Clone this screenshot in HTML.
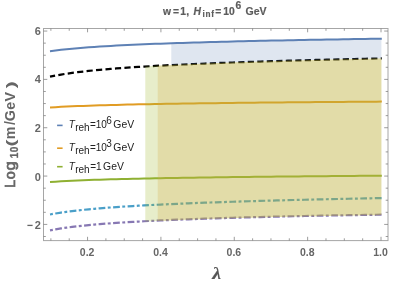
<!DOCTYPE html>
<html><head><meta charset="utf-8"><style>
html,body{margin:0;padding:0;background:#fff;}
svg{display:block;font-family:"Liberation Sans",sans-serif;}
#w{will-change:transform;width:399px;height:285px;overflow:hidden;}
</style></head><body>
<div id="w">
<svg width="399" height="285" viewBox="0 0 399 285">
<rect width="399" height="285" fill="#fff"/>
<g fill="none" stroke-width="2">
<path d="M50.00 51.23 L55.53 50.46 L61.06 49.78 L66.59 49.18 L72.12 48.64 L77.65 48.15 L83.18 47.70 L88.71 47.28 L94.24 46.90 L99.77 46.54 L105.30 46.20 L110.83 45.88 L116.36 45.58 L121.89 45.30 L127.42 45.03 L132.95 44.77 L138.48 44.53 L144.01 44.29 L149.54 44.07 L155.07 43.85 L160.60 43.65 L166.13 43.45 L171.66 43.25 L177.19 43.07 L182.72 42.89 L188.25 42.71 L193.78 42.55 L199.31 42.38 L204.84 42.22 L210.37 42.07 L215.90 41.92 L221.43 41.77 L226.96 41.63 L232.49 41.49 L238.02 41.36 L243.55 41.23 L249.08 41.10 L254.61 40.98 L260.14 40.85 L265.67 40.73 L271.20 40.62 L276.73 40.50 L282.26 40.39 L287.79 40.28 L293.32 40.17 L298.85 40.07 L304.38 39.96 L309.91 39.86 L315.44 39.76 L320.97 39.66 L326.50 39.57 L332.03 39.47 L337.56 39.38 L343.09 39.29 L348.62 39.20 L354.15 39.11 L359.68 39.02 L365.21 38.94 L370.74 38.85 L376.27 38.77 L381.80 38.69 " stroke="#5E81B5"/>
<path d="M50.00 107.56 L55.53 107.19 L61.06 106.87 L66.59 106.59 L72.12 106.33 L77.65 106.10 L83.18 105.88 L88.71 105.68 L94.24 105.50 L99.77 105.33 L105.30 105.17 L110.83 105.02 L116.36 104.88 L121.89 104.74 L127.42 104.61 L132.95 104.49 L138.48 104.37 L144.01 104.26 L149.54 104.15 L155.07 104.05 L160.60 103.95 L166.13 103.86 L171.66 103.77 L177.19 103.68 L182.72 103.59 L188.25 103.51 L193.78 103.43 L199.31 103.35 L204.84 103.28 L210.37 103.20 L215.90 103.13 L221.43 103.06 L226.96 103.00 L232.49 102.93 L238.02 102.87 L243.55 102.80 L249.08 102.74 L254.61 102.68 L260.14 102.62 L265.67 102.57 L271.20 102.51 L276.73 102.46 L282.26 102.40 L287.79 102.35 L293.32 102.30 L298.85 102.25 L304.38 102.20 L309.91 102.15 L315.44 102.10 L320.97 102.06 L326.50 102.01 L332.03 101.97 L337.56 101.92 L343.09 101.88 L348.62 101.84 L354.15 101.79 L359.68 101.75 L365.21 101.71 L370.74 101.67 L376.27 101.63 L381.80 101.59 " stroke="#E19C24"/>
<path d="M50.00 182.07 L55.53 181.67 L61.06 181.33 L66.59 181.02 L72.12 180.75 L77.65 180.50 L83.18 180.27 L88.71 180.06 L94.24 179.87 L99.77 179.68 L105.30 179.51 L110.83 179.35 L116.36 179.20 L121.89 179.05 L127.42 178.92 L132.95 178.79 L138.48 178.66 L144.01 178.54 L149.54 178.43 L155.07 178.32 L160.60 178.21 L166.13 178.11 L171.66 178.01 L177.19 177.92 L182.72 177.83 L188.25 177.74 L193.78 177.65 L199.31 177.57 L204.84 177.49 L210.37 177.41 L215.90 177.34 L221.43 177.26 L226.96 177.19 L232.49 177.12 L238.02 177.05 L243.55 176.98 L249.08 176.92 L254.61 176.86 L260.14 176.79 L265.67 176.73 L271.20 176.67 L276.73 176.62 L282.26 176.56 L287.79 176.50 L293.32 176.45 L298.85 176.39 L304.38 176.34 L309.91 176.29 L315.44 176.24 L320.97 176.19 L326.50 176.14 L332.03 176.09 L337.56 176.04 L343.09 176.00 L348.62 175.95 L354.15 175.91 L359.68 175.86 L365.21 175.82 L370.74 175.78 L376.27 175.74 L381.80 175.69 " stroke="#8FB032"/>
<path d="M50.00 214.47 L55.53 213.46 L61.06 212.58 L66.59 211.79 L72.12 211.09 L77.65 210.44 L83.18 209.86 L88.71 209.31 L94.24 208.81 L99.77 208.34 L105.30 207.90 L110.83 207.48 L116.36 207.09 L121.89 206.72 L127.42 206.37 L132.95 206.03 L138.48 205.71 L144.01 205.41 L149.54 205.11 L155.07 204.83 L160.60 204.56 L166.13 204.30 L171.66 204.05 L177.19 203.81 L182.72 203.57 L188.25 203.34 L193.78 203.12 L199.31 202.91 L204.84 202.70 L210.37 202.50 L215.90 202.31 L221.43 202.12 L226.96 201.93 L232.49 201.75 L238.02 201.58 L243.55 201.40 L249.08 201.24 L254.61 201.07 L260.14 200.91 L265.67 200.76 L271.20 200.60 L276.73 200.45 L282.26 200.31 L287.79 200.16 L293.32 200.02 L298.85 199.88 L304.38 199.75 L309.91 199.62 L315.44 199.49 L320.97 199.36 L326.50 199.23 L332.03 199.11 L337.56 198.99 L343.09 198.87 L348.62 198.75 L354.15 198.63 L359.68 198.52 L365.21 198.41 L370.74 198.30 L376.27 198.19 L381.80 198.08 " stroke="#4A9FC8" stroke-dasharray="2.9 2.45 6.75 2.45" stroke-width="2.2"/>
<path d="M50.00 230.38 L55.53 229.33 L61.06 228.43 L66.59 227.63 L72.12 226.91 L77.65 226.26 L83.18 225.66 L88.71 225.12 L94.24 224.61 L99.77 224.14 L105.30 223.71 L110.83 223.30 L116.36 222.91 L121.89 222.54 L127.42 222.20 L132.95 221.87 L138.48 221.56 L144.01 221.26 L149.54 220.98 L155.07 220.71 L160.60 220.44 L166.13 220.19 L171.66 219.95 L177.19 219.72 L182.72 219.50 L188.25 219.29 L193.78 219.08 L199.31 218.88 L204.84 218.68 L210.37 218.50 L215.90 218.31 L221.43 218.14 L226.96 217.97 L232.49 217.80 L238.02 217.64 L243.55 217.48 L249.08 217.33 L254.61 217.18 L260.14 217.04 L265.67 216.90 L271.20 216.76 L276.73 216.63 L282.26 216.50 L287.79 216.37 L293.32 216.25 L298.85 216.13 L304.38 216.01 L309.91 215.90 L315.44 215.79 L320.97 215.68 L326.50 215.58 L332.03 215.47 L337.56 215.37 L343.09 215.28 L348.62 215.18 L354.15 215.09 L359.68 215.00 L365.21 214.92 L370.74 214.83 L376.27 214.76 L381.80 214.69 " stroke="#8778B3" stroke-dasharray="2.9 2.45 6.75 2.45" stroke-width="2.2"/>
<path d="M50.00 76.69 L55.53 75.56 L61.06 74.57 L66.59 73.70 L72.12 72.91 L77.65 72.19 L83.18 71.54 L88.71 70.93 L94.24 70.37 L99.77 69.84 L105.30 69.35 L110.83 68.89 L116.36 68.45 L121.89 68.03 L127.42 67.64 L132.95 67.27 L138.48 66.91 L144.01 66.57 L149.54 66.24 L155.07 65.92 L160.60 65.62 L166.13 65.33 L171.66 65.05 L177.19 64.78 L182.72 64.51 L188.25 64.26 L193.78 64.01 L199.31 63.78 L204.84 63.54 L210.37 63.32 L215.90 63.10 L221.43 62.89 L226.96 62.68 L232.49 62.48 L238.02 62.28 L243.55 62.09 L249.08 61.90 L254.61 61.72 L260.14 61.54 L265.67 61.37 L271.20 61.20 L276.73 61.03 L282.26 60.87 L287.79 60.70 L293.32 60.55 L298.85 60.39 L304.38 60.24 L309.91 60.09 L315.44 59.95 L320.97 59.80 L326.50 59.66 L332.03 59.53 L337.56 59.39 L343.09 59.26 L348.62 59.13 L354.15 59.00 L359.68 58.87 L365.21 58.75 L370.74 58.62 L376.27 58.50 L381.80 58.38 " stroke="#000" stroke-dasharray="6.2 3.3" stroke-dashoffset="1.0" stroke-width="2.2"/>
</g>
<path d="M171.30 43.27 L174.80 43.15 L178.30 43.03 L181.81 42.92 L185.31 42.81 L188.81 42.70 L192.31 42.59 L195.81 42.49 L199.31 42.38 L202.81 42.28 L206.32 42.18 L209.82 42.09 L213.32 41.99 L216.82 41.90 L220.32 41.80 L223.82 41.71 L227.33 41.62 L230.83 41.54 L234.33 41.45 L237.83 41.36 L241.33 41.28 L244.84 41.20 L248.34 41.12 L251.84 41.04 L255.34 40.96 L258.84 40.88 L262.34 40.80 L265.84 40.73 L269.35 40.65 L272.85 40.58 L276.35 40.51 L279.85 40.44 L283.35 40.37 L286.86 40.30 L290.36 40.23 L293.86 40.16 L297.36 40.09 L300.86 40.03 L304.36 39.96 L307.87 39.90 L311.37 39.83 L314.87 39.77 L318.37 39.71 L321.87 39.65 L325.37 39.59 L328.87 39.53 L332.38 39.47 L335.88 39.41 L339.38 39.35 L342.88 39.29 L346.38 39.23 L349.88 39.18 L353.39 39.12 L356.89 39.07 L360.39 39.01 L363.89 38.96 L367.39 38.90 L370.89 38.85 L374.40 38.80 L377.90 38.75 L381.40 38.69 L381.40 58.39 L377.90 58.47 L374.40 58.54 L370.89 58.62 L367.39 58.70 L363.89 58.78 L360.39 58.85 L356.89 58.93 L353.39 59.02 L349.88 59.10 L346.38 59.18 L342.88 59.26 L339.38 59.35 L335.88 59.43 L332.38 59.52 L328.87 59.60 L325.37 59.69 L321.87 59.78 L318.37 59.87 L314.87 59.96 L311.37 60.05 L307.87 60.15 L304.36 60.24 L300.86 60.34 L297.36 60.43 L293.86 60.53 L290.36 60.63 L286.86 60.73 L283.35 60.83 L279.85 60.94 L276.35 61.04 L272.85 61.15 L269.35 61.25 L265.84 61.36 L262.34 61.47 L258.84 61.58 L255.34 61.70 L251.84 61.81 L248.34 61.93 L244.84 62.05 L241.33 62.17 L237.83 62.29 L234.33 62.41 L230.83 62.54 L227.33 62.67 L223.82 62.80 L220.32 62.93 L216.82 63.07 L213.32 63.20 L209.82 63.34 L206.32 63.48 L202.81 63.63 L199.31 63.78 L195.81 63.93 L192.31 64.08 L188.81 64.23 L185.31 64.39 L181.81 64.56 L178.30 64.72 L174.80 64.89 L171.30 65.07 Z" fill="#5E81B5" fill-opacity="0.2"/>
<path d="M145.30 66.49 L149.24 66.26 L153.17 66.03 L157.11 65.81 L161.04 65.60 L164.97 65.39 L168.91 65.19 L172.85 64.99 L176.78 64.80 L180.72 64.61 L184.65 64.42 L188.58 64.24 L192.52 64.07 L196.46 63.90 L200.39 63.73 L204.32 63.57 L208.26 63.40 L212.20 63.25 L216.13 63.09 L220.06 62.94 L224.00 62.79 L227.94 62.65 L231.87 62.50 L235.81 62.36 L239.74 62.22 L243.68 62.09 L247.61 61.95 L251.55 61.82 L255.48 61.69 L259.41 61.57 L263.35 61.44 L267.28 61.32 L271.22 61.20 L275.16 61.08 L279.09 60.96 L283.02 60.84 L286.96 60.73 L290.89 60.62 L294.83 60.50 L298.76 60.40 L302.70 60.29 L306.64 60.18 L310.57 60.08 L314.50 59.97 L318.44 59.87 L322.38 59.77 L326.31 59.67 L330.25 59.57 L334.18 59.47 L338.12 59.38 L342.05 59.28 L345.99 59.19 L349.92 59.10 L353.86 59.00 L357.79 58.91 L361.72 58.82 L365.66 58.74 L369.59 58.65 L373.53 58.56 L377.47 58.48 L381.40 58.39 L381.40 215.09 L377.47 215.14 L373.53 215.19 L369.59 215.25 L365.66 215.31 L361.72 215.37 L357.79 215.43 L353.86 215.49 L349.92 215.56 L345.99 215.63 L342.05 215.69 L338.12 215.76 L334.18 215.83 L330.25 215.91 L326.31 215.98 L322.38 216.05 L318.44 216.13 L314.50 216.21 L310.57 216.29 L306.64 216.37 L302.70 216.45 L298.76 216.53 L294.83 216.62 L290.89 216.70 L286.96 216.79 L283.02 216.88 L279.09 216.97 L275.16 217.07 L271.22 217.16 L267.28 217.26 L263.35 217.36 L259.41 217.46 L255.48 217.56 L251.55 217.66 L247.61 217.77 L243.68 217.88 L239.74 217.99 L235.81 218.10 L231.87 218.22 L227.94 218.34 L224.00 218.46 L220.06 218.58 L216.13 218.71 L212.20 218.84 L208.26 218.97 L204.32 219.10 L200.39 219.24 L196.46 219.38 L192.52 219.52 L188.58 219.67 L184.65 219.82 L180.72 219.98 L176.78 220.14 L172.85 220.30 L168.91 220.47 L164.97 220.65 L161.04 220.82 L157.11 221.01 L153.17 221.20 L149.24 221.39 L145.30 221.59 Z" fill="#9FB72B" fill-opacity="0.25"/>
<path d="M157.70 65.78 L161.43 65.58 L165.16 65.38 L168.88 65.19 L172.61 65.00 L176.34 64.82 L180.07 64.64 L183.80 64.46 L187.53 64.29 L191.25 64.13 L194.98 63.96 L198.71 63.80 L202.44 63.64 L206.17 63.49 L209.90 63.34 L213.62 63.19 L217.35 63.04 L221.08 62.90 L224.81 62.76 L228.54 62.62 L232.27 62.49 L236.00 62.35 L239.72 62.22 L243.45 62.09 L247.18 61.97 L250.91 61.84 L254.64 61.72 L258.36 61.60 L262.09 61.48 L265.82 61.36 L269.55 61.25 L273.28 61.13 L277.01 61.02 L280.74 60.91 L284.46 60.80 L288.19 60.69 L291.92 60.59 L295.65 60.48 L299.38 60.38 L303.10 60.28 L306.83 60.18 L310.56 60.08 L314.29 59.98 L318.02 59.88 L321.75 59.78 L325.48 59.69 L329.20 59.60 L332.93 59.50 L336.66 59.41 L340.39 59.32 L344.12 59.23 L347.84 59.14 L351.57 59.06 L355.30 58.97 L359.03 58.89 L362.76 58.80 L366.49 58.72 L370.22 58.63 L373.94 58.55 L377.67 58.47 L381.40 58.39 L381.40 215.09 L377.67 215.14 L373.94 215.19 L370.22 215.24 L366.49 215.30 L362.76 215.35 L359.03 215.41 L355.30 215.47 L351.57 215.53 L347.84 215.59 L344.12 215.66 L340.39 215.72 L336.66 215.79 L332.93 215.86 L329.20 215.92 L325.48 215.99 L321.75 216.07 L318.02 216.14 L314.29 216.21 L310.56 216.29 L306.83 216.36 L303.10 216.44 L299.38 216.52 L295.65 216.60 L291.92 216.68 L288.19 216.76 L284.46 216.85 L280.74 216.94 L277.01 217.02 L273.28 217.11 L269.55 217.20 L265.82 217.30 L262.09 217.39 L258.36 217.48 L254.64 217.58 L250.91 217.68 L247.18 217.78 L243.45 217.89 L239.72 217.99 L236.00 218.10 L232.27 218.21 L228.54 218.32 L224.81 218.43 L221.08 218.55 L217.35 218.67 L213.62 218.79 L209.90 218.91 L206.17 219.04 L202.44 219.17 L198.71 219.30 L194.98 219.43 L191.25 219.57 L187.53 219.71 L183.80 219.86 L180.07 220.01 L176.34 220.16 L172.61 220.31 L168.88 220.47 L165.16 220.64 L161.43 220.81 L157.70 220.98 Z" fill="#D3AD42" fill-opacity="0.25"/>
<rect x="43.5" y="28.5" width="344.5" height="212.10" fill="none" stroke="#a6a6a6" stroke-width="1"/>
<g stroke="#7c7c7c" stroke-width="0.75" fill="none"><path d="M50.88 240.60 v-2.3 M50.88 28.50 v2.3"/><path d="M69.22 240.60 v-2.3 M69.22 28.50 v2.3"/><path d="M87.56 240.60 v-3.8 M87.56 28.50 v3.8"/><path d="M105.90 240.60 v-2.3 M105.90 28.50 v2.3"/><path d="M124.24 240.60 v-2.3 M124.24 28.50 v2.3"/><path d="M142.58 240.60 v-2.3 M142.58 28.50 v2.3"/><path d="M160.92 240.60 v-3.8 M160.92 28.50 v3.8"/><path d="M179.26 240.60 v-2.3 M179.26 28.50 v2.3"/><path d="M197.60 240.60 v-2.3 M197.60 28.50 v2.3"/><path d="M215.94 240.60 v-2.3 M215.94 28.50 v2.3"/><path d="M234.28 240.60 v-3.8 M234.28 28.50 v3.8"/><path d="M252.62 240.60 v-2.3 M252.62 28.50 v2.3"/><path d="M270.96 240.60 v-2.3 M270.96 28.50 v2.3"/><path d="M289.30 240.60 v-2.3 M289.30 28.50 v2.3"/><path d="M307.64 240.60 v-3.8 M307.64 28.50 v3.8"/><path d="M325.98 240.60 v-2.3 M325.98 28.50 v2.3"/><path d="M344.32 240.60 v-2.3 M344.32 28.50 v2.3"/><path d="M362.66 240.60 v-2.3 M362.66 28.50 v2.3"/><path d="M381.00 240.60 v-3.8 M381.00 28.50 v3.8"/><path d="M43.50 236.50 h2.3 M388.00 236.50 h-2.3"/><path d="M43.50 224.41 h3.8 M388.00 224.41 h-3.8"/><path d="M43.50 212.32 h2.3 M388.00 212.32 h-2.3"/><path d="M43.50 200.24 h2.3 M388.00 200.24 h-2.3"/><path d="M43.50 188.16 h2.3 M388.00 188.16 h-2.3"/><path d="M43.50 176.07 h3.8 M388.00 176.07 h-3.8"/><path d="M43.50 163.98 h2.3 M388.00 163.98 h-2.3"/><path d="M43.50 151.90 h2.3 M388.00 151.90 h-2.3"/><path d="M43.50 139.81 h2.3 M388.00 139.81 h-2.3"/><path d="M43.50 127.73 h3.8 M388.00 127.73 h-3.8"/><path d="M43.50 115.64 h2.3 M388.00 115.64 h-2.3"/><path d="M43.50 103.56 h2.3 M388.00 103.56 h-2.3"/><path d="M43.50 91.47 h2.3 M388.00 91.47 h-2.3"/><path d="M43.50 79.39 h3.8 M388.00 79.39 h-3.8"/><path d="M43.50 67.30 h2.3 M388.00 67.30 h-2.3"/><path d="M43.50 55.22 h2.3 M388.00 55.22 h-2.3"/><path d="M43.50 43.13 h2.3 M388.00 43.13 h-2.3"/><path d="M43.50 31.05 h3.8 M388.00 31.05 h-3.8"/></g>
<g font-size="10.5" font-weight="bold" fill="#666"><text x="87.16" y="255.9" text-anchor="middle">0.2</text><text x="160.52" y="255.9" text-anchor="middle">0.4</text><text x="233.88" y="255.9" text-anchor="middle">0.6</text><text x="307.24" y="255.9" text-anchor="middle">0.8</text><text x="380.60" y="255.9" text-anchor="middle">1.0</text><text x="40.8" y="35.25" text-anchor="end" font-size="11">6</text><text x="40.8" y="83.29" text-anchor="end" font-size="11">4</text><text x="40.8" y="132.13" text-anchor="end" font-size="11">2</text><text x="40.8" y="180.57" text-anchor="end" font-size="11">0</text><text x="40.8" y="228.71" text-anchor="end" font-size="11">2</text><path d="M27.4 225.41 h5.2" stroke="#666" stroke-width="1.3"/></g>
<g font-size="10.3" font-weight="bold" fill="#5c5c5c" stroke="#5c5c5c" stroke-width="0.2">
<text x="163" y="14.7">w</text><text x="173" y="14.7">=</text><text x="180.2" y="14.7">1</text><text x="186.2" y="14.7">,</text>
<text x="193.5" y="14.7" font-style="italic">H</text><text x="202.6" y="16.9" font-size="8.2" letter-spacing="0.7">inf</text>
<text x="215.2" y="14.7">=</text><text x="223.3" y="14.7">10</text><text x="235.5" y="9.2" font-size="10.3">6</text><text x="245.6" y="14.7" font-size="10.5">GeV</text>
</g>
<g font-weight="bold" fill="#666"><text transform="translate(14.60,187.70) rotate(-90) scale(0.95,1)" font-size="15.2" font-weight="normal" stroke="#666" stroke-width="0.7">L</text><text transform="translate(14.60,179.30) rotate(-90) scale(0.95,1)" font-size="15.2" font-weight="normal" stroke="#666" stroke-width="0.7">o</text><text transform="translate(14.60,170.40) rotate(-90) scale(1.1,1)" font-size="15.2" font-weight="normal" stroke="#666" stroke-width="0.7">g</text><text transform="translate(17.90,158.30) rotate(-90) scale(1,1)" font-size="10" letter-spacing="0.4" stroke="#666" stroke-width="0.3">10</text><text transform="translate(14.80,146.60) rotate(-90) scale(1.6,1)" font-size="13" >(</text><text transform="translate(14.60,139.20) rotate(-90) scale(1,1)" font-size="14.3" >m</text><text transform="translate(14.60,125.10) rotate(-90) scale(1,1)" font-size="14.3" >/</text><text transform="translate(14.60,121.20) rotate(-90) scale(1,1)" font-size="14.3" >G</text><text transform="translate(14.60,109.80) rotate(-90) scale(1,1)" font-size="14.3" >e</text><text transform="translate(14.60,101.50) rotate(-90) scale(1,1)" font-size="14.3" >V</text><text transform="translate(14.80,88.20) rotate(-90) scale(1.6,1)" font-size="13" >)</text></g>
<text transform="translate(212.3,279.3) scale(1.25,1)" font-size="16" font-weight="bold" font-style="italic" fill="#555" stroke="#555" stroke-width="0.1" font-family="Liberation Serif">λ</text>
<g font-size="10" fill="#222">
<path d="M57.1 125.40 h5.5" stroke="#5E81B5" stroke-width="1.6"/><text x="68.7" y="128.40" font-style="italic">T</text><text x="75.2" y="131.20">reh</text><text x="89.9" y="128.40">=10</text><text x="106.2" y="124.00">6</text><text x="113.3" y="128.40" font-size="10.4">GeV</text>
<path d="M57.1 148.20 h5.5" stroke="#E19C24" stroke-width="1.6"/><text x="68.7" y="151.20" font-style="italic">T</text><text x="75.2" y="154.00">reh</text><text x="89.9" y="151.20">=10</text><text x="106.2" y="146.80">3</text><text x="113.3" y="151.20" font-size="10.4">GeV</text>
<path d="M57.1 166.70 h5.5" stroke="#8FB032" stroke-width="1.6"/><text x="68.7" y="169.70" font-style="italic">T</text><text x="75.2" y="172.50">reh</text><text x="90.2" y="169.70">=1</text><text x="103.1" y="169.70" font-size="10.4">GeV</text>
</g>
</svg>
</div>
</body></html>
